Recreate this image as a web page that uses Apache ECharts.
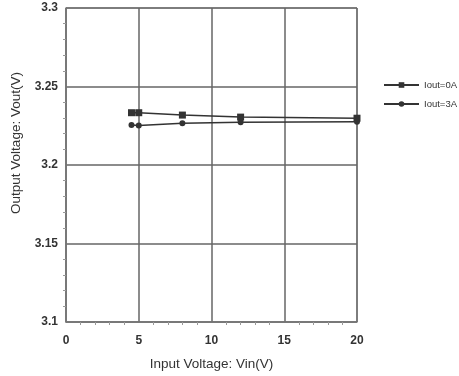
<!DOCTYPE html>
<html>
<head>
<meta charset="utf-8">
<script src="https://cdn.jsdelivr.net/npm/echarts@6/dist/echarts.min.js"></script>
<style>
  html, body { margin: 0; padding: 0; background: #fff; }
  #chart { width: 459px; height: 376px; }
</style>
</head>
<body>
<div id="chart"></div>
<script>
// 输入电压 (V)
var vin = [4.5, 5, 8, 12, 20];
// 输出电压 (V)
var vout0A = [3.2333, 3.2333, 3.2318, 3.2305, 3.2298];
var vout3A = [3.2255, 3.2252, 3.2266, 3.2272, 3.2276];
var seriesNames = ["Iout=0A", "Iout=3A"];

var myChart = echarts.init(document.getElementById("chart"));

function pairs(xs, ys) {
  var out = [];
  for (var i = 0; i < xs.length; i++) out.push([xs[i], ys[i]]);
  return out;
}

var font = "Liberation Sans, Arial, sans-serif";

var option = {
  animation: false,
  grid: {
    left: 66,
    right: 102,
    top: 8,
    bottom: 53,
    show: true,
    borderColor: "#888",
    borderWidth: 1,
  },
  legend: {
    orient: "vertical",
    left: 383,
    top: 80,
    padding: 0,
    itemWidth: 35,
    itemHeight: 7,
    itemGap: 9,
    textStyle: { fontFamily: font, fontSize: 9.5, color: "#333" },
    data: seriesNames,
  },
  xAxis: {
    type: "value",
    min: 0,
    max: 20,
    interval: 5,
    name: "Input Voltage: Vin(V)",
    nameLocation: "middle",
    nameGap: 35,
    nameTextStyle: { fontFamily: font, fontSize: 13.5, color: "#333" },
    axisLine: { lineStyle: { color: "#777", width: 1.5 } },
    axisTick: { show: false },
    minorTick: { show: true, splitNumber: 5, length: 3, lineStyle: { color: "#999" } },
    axisLabel: { fontFamily: font, fontSize: 12, fontWeight: "bold", color: "#333", margin: 13 },
    splitLine: { lineStyle: { color: "#666", width: 1.5 } },
  },
  yAxis: {
    type: "value",
    min: 3.1,
    max: 3.3,
    interval: 0.05,
    name: "Output Voltage: Vout(V)",
    nameLocation: "middle",
    nameGap: 35,
    // 标题在参考图里比绘图区中心偏上
    nameTextStyle: { fontFamily: font, fontSize: 13.5, color: "#333", padding: [0, 0, 0, 44] },
    axisLine: { show: true, lineStyle: { color: "#777", width: 1.5 } },
    axisTick: { show: false },
    minorTick: { show: true, splitNumber: 5, length: 3, lineStyle: { color: "#999" } },
    axisLabel: { fontFamily: font, fontSize: 12, fontWeight: "bold", color: "#333", margin: 8 },
    splitLine: { lineStyle: { color: "#666", width: 1.5 } },
  },
  series: [
    {
      name: seriesNames[0],
      type: "line",
      data: pairs(vin, vout0A),
      symbol: "rect",
      symbolSize: 7,
      color: "#333",
      lineStyle: { color: "#333", width: 1.5 },
    },
    {
      name: seriesNames[1],
      type: "line",
      data: pairs(vin, vout3A),
      symbol: "circle",
      symbolSize: 6,
      color: "#333",
      lineStyle: { color: "#333", width: 1.5 },
    },
  ],
};

myChart.setOption(option);
</script>
</body>
</html>
